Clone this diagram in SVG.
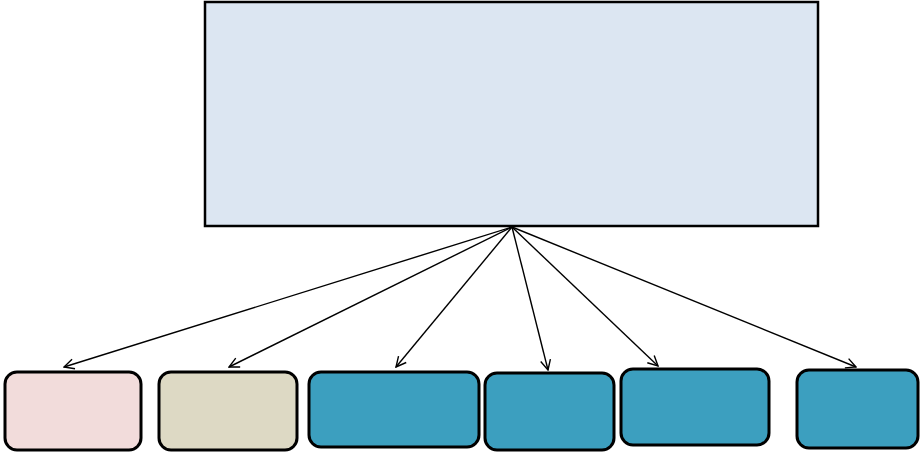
<svg xmlns="http://www.w3.org/2000/svg" width="923" height="455" viewBox="0 0 923 455">
<style>
.box{stroke:#000;stroke-width:3}
.con{stroke:#000;stroke-width:1.4;fill:none;marker-end:url(#ah)}
</style>
<defs>
<marker id="ah" viewBox="0 0 12 12" refX="11" refY="6" markerWidth="12" markerHeight="12" markerUnits="userSpaceOnUse" orient="auto">
<path d="M1,1 L11,6 L1,11" fill="none" stroke="#000" stroke-width="1.4"/>
</marker>
</defs>
<rect width="923" height="455" fill="#fff"/>
<g id="main"><rect x="205" y="2" width="613" height="224" fill="#DCE6F2" stroke="#000" stroke-width="2.5"/></g>
<g id="connectors">
<line class="con" x1="512" y1="227" x2="64" y2="367"/>
<line class="con" x1="512" y1="227" x2="229" y2="367"/>
<line class="con" x1="512" y1="227" x2="396" y2="367"/>
<line class="con" x1="512" y1="227" x2="548" y2="370"/>
<line class="con" x1="512" y1="227" x2="658" y2="366"/>
<line class="con" x1="512" y1="227" x2="856" y2="367"/>
</g>
<g id="n1"><rect class="box" x="5" y="372" width="136" height="78" rx="12" fill="#F2DCDB"/></g>
<g id="n2"><rect class="box" x="159" y="372" width="138" height="78" rx="12" fill="#DDD9C4"/></g>
<g id="n3"><rect class="box" x="309" y="372" width="170" height="75" rx="12" fill="#3C9FBF"/></g>
<g id="n4"><rect class="box" x="485" y="373" width="129" height="77" rx="12" fill="#3C9FBF"/></g>
<g id="n5"><rect class="box" x="621" y="369" width="148" height="76" rx="12" fill="#3C9FBF"/></g>
<g id="n6"><rect class="box" x="797" y="370" width="121" height="78" rx="12" fill="#3C9FBF"/></g>
</svg>
